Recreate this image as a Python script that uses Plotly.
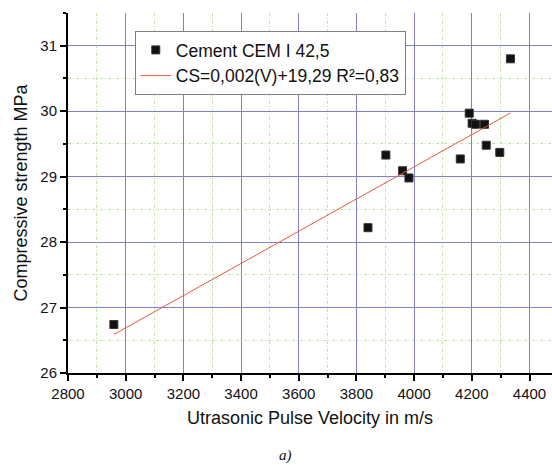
import numpy as np
import plotly.graph_objects as go

# Data
velocity = [2959, 3840, 3902, 3960, 3982, 4160, 4191, 4201, 4213, 4244, 4250, 4297, 4334]
strength = [26.74, 28.22, 29.33, 29.09, 28.98, 29.27, 29.97, 29.815, 29.80, 29.80, 29.48, 29.37, 30.80]

fit_slope = 0.00246
fit_intercept = 19.31
fit_x = [2959, 4334]
fit_y = [fit_slope * v + fit_intercept for v in fit_x]

series_name = "Cement CEM I 42,5"
fit_name = "CS=0,002(V)+19,29 R²=0,83"

font_family = "Liberation Sans, Arial, sans-serif"

fig = go.Figure()
fig.add_trace(go.Scatter(
    x=velocity, y=strength, mode="markers", name=series_name,
    marker=dict(symbol="square", size=8, color="#111111",
                line=dict(color="#333333", width=1)),
))
fig.add_trace(go.Scatter(
    x=fit_x, y=fit_y, mode="lines", name=fit_name,
    line=dict(color="#e8583a", width=1),
))

major_grid = "#8080c8"
minor_grid = "#bfe3a4"

fig.update_layout(
    width=552, height=465,
    margin=dict(l=68, r=0, t=13, b=92),
    paper_bgcolor="white", plot_bgcolor="white",
    font=dict(family=font_family, color="#111111"),
    showlegend=True,
    legend=dict(
        x=0.138, y=0.95, xanchor="left", yanchor="top",
        bgcolor="white", bordercolor="#808080", borderwidth=1,
        font=dict(size=17.5, family=font_family),
        tracegroupgap=0, itemwidth=30,
    ),
    xaxis=dict(
        range=[2800, 4478], dtick=200, tick0=2800,
        showline=True, linecolor="black", linewidth=2,
        ticks="outside", ticklen=6, tickwidth=1.5, tickcolor="black",
        showgrid=True, gridcolor=major_grid, gridwidth=1.2,
        zeroline=False,
        tickfont=dict(size=15),
        title=dict(text="Utrasonic Pulse Velocity in m/s", font=dict(size=18), standoff=10),
        minor=dict(dtick=100, showgrid=True, gridcolor=minor_grid, griddash="3px,2px,1px,2px",
                   gridwidth=1, ticks="outside", ticklen=3, tickcolor="black"),
    ),
    yaxis=dict(
        range=[26, 31.5], dtick=1, tick0=26,
        showline=True, linecolor="black", linewidth=2,
        ticks="outside", ticklen=6, tickwidth=1.5, tickcolor="black",
        showgrid=True, gridcolor=major_grid, gridwidth=1.2,
        zeroline=False,
        tickfont=dict(size=15),
        title=dict(text="Compressive strength MPa", font=dict(size=18), standoff=8),
        minor=dict(dtick=0.5, showgrid=True, gridcolor=minor_grid, griddash="3px,2px,1px,2px",
                   gridwidth=1, ticks="outside", ticklen=3, tickcolor="black"),
    ),
    annotations=[dict(
        text="<i>a)</i>", x=(285 - 68) / 484, y=1 - (455 - 13) / 360,
        xref="paper", yref="paper", xanchor="center", yanchor="middle",
        showarrow=False, font=dict(family="Liberation Serif, serif", size=15),
    )],
)

fig.write_html("out.html")
